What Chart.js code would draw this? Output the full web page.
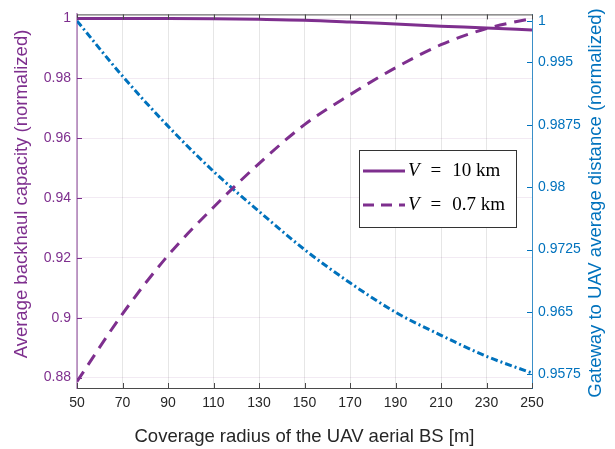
<!DOCTYPE html>
<html>
<head>
<meta charset="utf-8">
<script src="https://cdn.jsdelivr.net/npm/chart.js@4.4.1/dist/chart.umd.min.js"></script>
<style>
  html, body { margin: 0; padding: 0; background: #ffffff; }
  #wrap { width: 615px; height: 449px; position: relative; }
</style>
</head>
<body>
<div id="wrap"><canvas id="c" width="615" height="449"></canvas></div>
<script>
// ---- data ----
const radius = [50, 70, 90, 110, 130, 150, 170, 190, 210, 230, 250];
const capacityV10 = [1.0, 1.0, 1.0, 0.9999, 0.9997, 0.9994, 0.9988, 0.9981, 0.9974, 0.9968, 0.9961];
const capacityV07 = [0.8787, 0.9013, 0.9208, 0.9369, 0.9515, 0.9645, 0.9745, 0.9835, 0.9912, 0.9966, 1.0];
const gatewayDistance = [1.0, 0.99336, 0.98734, 0.9819, 0.9771, 0.9725, 0.9685, 0.96496, 0.96219, 0.95966, 0.95765];

const xTicks = [50, 70, 90, 110, 130, 150, 170, 190, 210, 230, 250];
const leftTicks = [0.88, 0.9, 0.92, 0.94, 0.96, 0.98, 1];
const leftTickLabels = ['0.88', '0.9', '0.92', '0.94', '0.96', '0.98', '1'];
const rightTicks = [0.9575, 0.965, 0.9725, 0.98, 0.9875, 0.995, 1];
const rightTickLabels = ['0.9575', '0.965', '0.9725', '0.98', '0.9875', '0.995', '1'];

const legendLabels = ['10 km', '0.7 km'];
const xTitle = 'Coverage radius of the UAV aerial BS [m]';
const leftTitle = 'Average backhaul capacity (normalized)';
const rightTitle = 'Gateway to UAV average distance (normalized)';

const PURPLE = '#7E2F8E';
const BLUE = '#0072BD';
const DARK = '#262626';

function pts(ys) { return radius.map((r, i) => ({ x: r, y: ys[i] })); }

const decor = {
  id: 'decor',
  afterDatasetsDraw(chart) {
    const ctx = chart.ctx;
    const a = chart.chartArea;
    const sx = chart.scales.x, sy = chart.scales.y, sy1 = chart.scales.y1;
    ctx.save();
    // top border
    ctx.strokeStyle = '#4a4a4a';
    ctx.lineWidth = 1;
    ctx.beginPath();
    ctx.moveTo(a.left, a.top + 0.5);
    ctx.lineTo(a.right, a.top + 0.5);
    ctx.stroke();
    // x tick marks inward, top and bottom
    xTicks.forEach(v => {
      const px = Math.round(sx.getPixelForValue(v)) + 0.5;
      ctx.beginPath();
      ctx.moveTo(px, a.bottom); ctx.lineTo(px, a.bottom - 5);
      ctx.moveTo(px, a.top); ctx.lineTo(px, a.top + 5);
      ctx.stroke();
    });
    // left ticks
    ctx.strokeStyle = PURPLE;
    leftTicks.forEach(v => {
      const py = Math.round(sy.getPixelForValue(v)) + 0.5;
      ctx.beginPath(); ctx.moveTo(a.left, py); ctx.lineTo(a.left + 5, py); ctx.stroke();
    });
    // right ticks
    ctx.strokeStyle = BLUE;
    rightTicks.forEach(v => {
      const py = Math.round(sy1.getPixelForValue(v)) + 0.5;
      ctx.beginPath(); ctx.moveTo(a.right, py); ctx.lineTo(a.right - 5, py); ctx.stroke();
    });

    // legend
    const bx = 359.5, by = 150.5, bw = 157, bh = 77;
    ctx.fillStyle = '#ffffff';
    ctx.fillRect(bx, by, bw, bh);
    ctx.strokeStyle = '#333333';
    ctx.lineWidth = 1;
    ctx.strokeRect(bx, by, bw, bh);
    const rows = [{ y: 171, dash: [] }, { y: 205, dash: [11, 7] }];
    rows.forEach((r, i) => {
      ctx.strokeStyle = PURPLE;
      ctx.lineWidth = 3;
      ctx.setLineDash(r.dash);
      ctx.beginPath(); ctx.moveTo(363, r.y); ctx.lineTo(405, r.y); ctx.stroke();
      ctx.setLineDash([]);
      ctx.fillStyle = '#000000';
      ctx.textBaseline = 'middle';
      ctx.textAlign = 'left';
      ctx.font = 'italic 19px "Liberation Serif", "DejaVu Serif", serif';
      ctx.fillText('V', 408, r.y);
      const w = ctx.measureText('V').width;
      ctx.font = '19px "Liberation Serif", "DejaVu Serif", serif';
      const xEq = 408 + w + 11;
      ctx.fillText('=', xEq, r.y);
      const w2 = ctx.measureText('=').width;
      ctx.fillText(legendLabels[i], xEq + w2 + 11, r.y);
    });

    // axis titles
    ctx.font = '18.5px "Liberation Sans", Arial, sans-serif';
    ctx.textAlign = 'center';
    ctx.textBaseline = 'middle';
    ctx.fillStyle = DARK;
    ctx.fillText(xTitle, (a.left + a.right) / 2, 437);
    ctx.save();
    ctx.translate(22, 194);
    ctx.rotate(-Math.PI / 2);
    ctx.fillStyle = PURPLE;
    ctx.fillText(leftTitle, 0, 0);
    ctx.restore();
    ctx.save();
    ctx.translate(596, 203);
    ctx.rotate(-Math.PI / 2);
    ctx.fillStyle = BLUE;
    ctx.fillText(rightTitle, 0, 0);
    ctx.restore();
    ctx.restore();
  }
};

new Chart(document.getElementById('c'), {
  type: 'line',
  data: {
    datasets: [
      { label: 'V = 10 km', data: pts(capacityV10), yAxisID: 'y', borderColor: PURPLE, borderWidth: 3, pointRadius: 0, cubicInterpolationMode: 'monotone', fill: false },
      { label: 'V = 0.7 km', data: pts(capacityV07), yAxisID: 'y', borderColor: PURPLE, borderWidth: 3, borderDash: [12, 8], pointRadius: 0, cubicInterpolationMode: 'monotone', fill: false },
      { label: 'Gateway distance', data: pts(gatewayDistance), yAxisID: 'y1', borderColor: BLUE, borderWidth: 3, borderDash: [7, 3, 2, 3], pointRadius: 0, cubicInterpolationMode: 'monotone', fill: false }
    ]
  },
  options: {
    responsive: false,
    animation: false,
    layout: { padding: { top: 13, left: 0, right: 0, bottom: 0 } },
    plugins: { legend: { display: false }, tooltip: { enabled: false } },
    scales: {
      x: {
        type: 'linear', position: 'bottom', min: 50, max: 250,
        afterBuildTicks: s => { s.ticks = xTicks.map(v => ({ value: v })); },
        afterFit: s => { s.height = 61; },
        grid: { color: '#e6e6e6', drawTicks: false, lineWidth: 1 },
        border: { color: '#4a4a4a', width: 1 },
        ticks: { color: DARK, font: { family: '"Liberation Sans", Arial, sans-serif', size: 14 }, padding: 7, maxRotation: 0, autoSkip: false,
          callback: v => String(v) }
      },
      y: {
        type: 'linear', position: 'left', min: 0.87653, max: 1.00133,
        afterBuildTicks: s => { s.ticks = leftTicks.map(v => ({ value: v })); },
        afterFit: s => { s.width = 77; },
        grid: { color: 'rgba(126,47,142,0.10)', drawTicks: false, lineWidth: 1 },
        border: { color: 'rgba(126,47,142,0.45)', width: 2 },
        ticks: { color: PURPLE, font: { family: '"Liberation Sans", Arial, sans-serif', size: 14 }, padding: 6, autoSkip: false,
          callback: v => leftTickLabels[leftTicks.findIndex(t => Math.abs(t - v) < 1e-6)] }
      },
      y1: {
        type: 'linear', position: 'right', min: 0.95585, max: 1.00078,
        afterBuildTicks: s => { s.ticks = rightTicks.map(v => ({ value: v })); },
        afterFit: s => { s.width = 83; },
        grid: { drawOnChartArea: false, drawTicks: false },
        border: { color: 'rgba(0,114,189,0.75)', width: 1 },
        ticks: { color: BLUE, font: { family: '"Liberation Sans", Arial, sans-serif', size: 14 }, padding: 6, autoSkip: false,
          callback: v => rightTickLabels[rightTicks.findIndex(t => Math.abs(t - v) < 1e-6)] }
      }
    }
  },
  plugins: [decor]
});
</script>
</body>
</html>
